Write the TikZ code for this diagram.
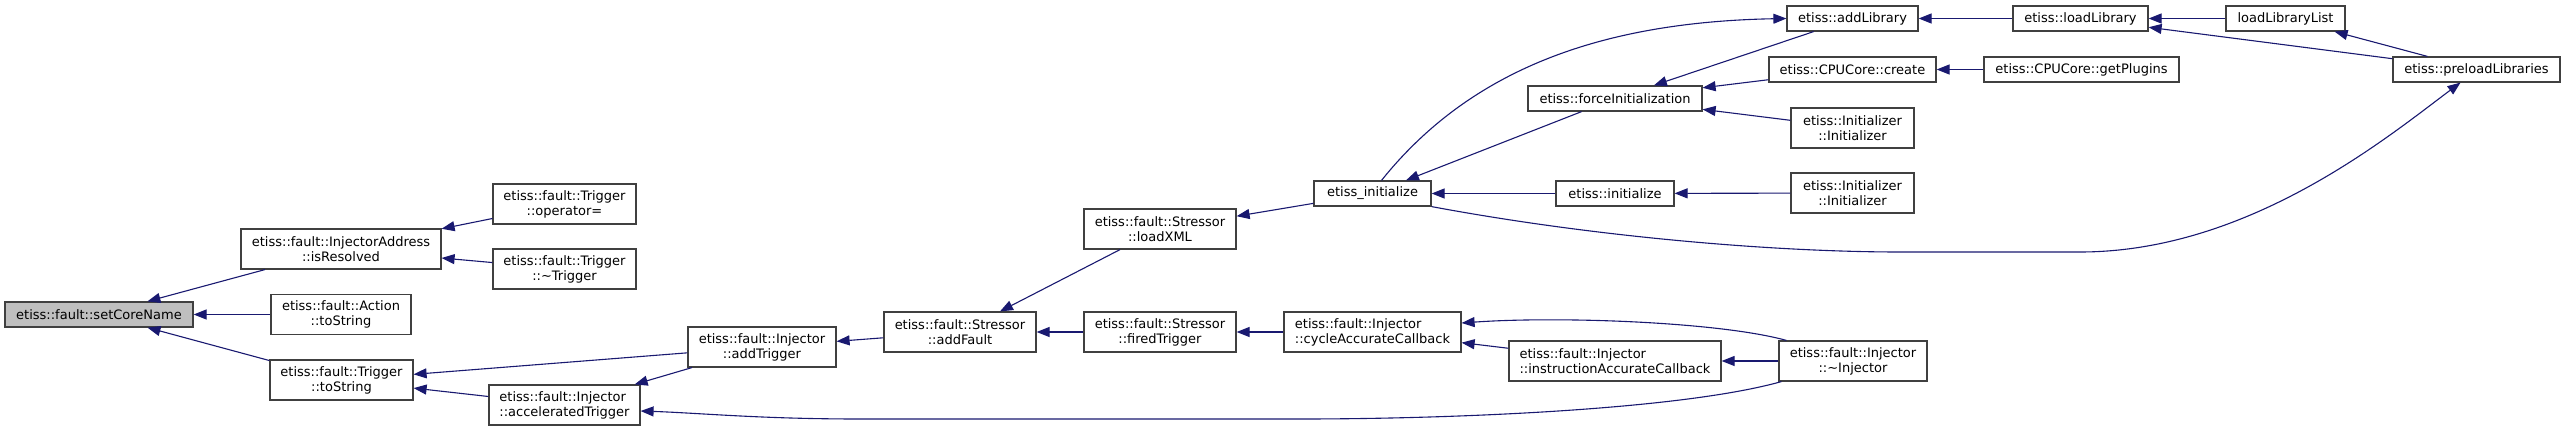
\documentclass[tikz,border=0pt]{standalone}
\usepackage{fontspec}
\setmainfont{DejaVu Sans}
\usepackage{tikz}
\usetikzlibrary{arrows.meta}
\usepackage{xcolor}
\definecolor{edgeblue}{HTML}{191970}
\definecolor{boxgrey}{HTML}{404040}
\definecolor{rootfill}{HTML}{BFBFBF}
\newcommand{\fnfont}{\fontsize{13pt}{15pt}\selectfont}
\tikzset{
  fn/.style={draw=boxgrey,fill=white,line width=1.2pt,inner sep=0pt,align=center,font=\fnfont},
  one/.style={fn,minimum height=25pt,minimum width=#1},
  two/.style={fn,minimum height=40pt,minimum width=#1},
  call/.style={draw=edgeblue,line width=1.1pt,<-,>={Triangle[length=13pt,width=10pt]}}
}

\begin{document}
\begin{tikzpicture}[x=1pt,y=-1pt]
\useasboundingbox (0,0) rectangle (2565,431);
\node[one=188pt,fill=rootfill] (core) at (99,314.5) {etiss::fault::setCoreName};
\node[two=200pt] (resolved) at (341,249) {etiss::fault::InjectorAddress\\::isResolved};
\node[two=140pt] (actstr) at (341,314.5) {etiss::fault::Action\\::toString};
\node[two=143pt] (trigstr) at (341.5,380) {etiss::fault::Trigger\\::toString};
\node[two=143pt] (opassign) at (564.5,204) {etiss::fault::Trigger\\::operator=};
\node[two=143pt] (trigdtor) at (564.5,269) {etiss::fault::Trigger\\::\textasciitilde Trigger};
\node[two=151pt,align=left] (accel) at (564.5,405) {etiss::fault::Injector\\::acceleratedTrigger};
\node[two=148pt] (addtrig) at (762,347) {etiss::fault::Injector\\::addTrigger};
\node[two=152pt] (addfault) at (960,332) {etiss::fault::Stressor\\::addFault};
\node[two=152pt] (loadxml) at (1160,229) {etiss::fault::Stressor\\::loadXML};
\node[two=152pt] (fired) at (1160,332) {etiss::fault::Stressor\\::firedTrigger};
\node[one=117pt] (init_) at (1372.5,193.5) {etiss\_initialize};
\node[two=177pt,align=left] (cycle) at (1372.5,332) {etiss::fault::Injector\\::cycleAccurateCallback};
\node[one=174pt] (force) at (1615,98.5) {etiss::forceInitialization};
\node[one=118pt] (initf) at (1615,193.5) {etiss::initialize};
\node[two=212pt,align=left] (instr) at (1615,361) {etiss::fault::Injector\\::instructionAccurateCallback};
\node[one=131pt] (addlib) at (1852.5,18.5) {etiss::addLibrary};
\node[one=167pt] (create) at (1852.5,69.5) {etiss::CPUCore::create};
\node[two=123pt] (initA) at (1852.5,128) {etiss::Initializer\\::Initializer};
\node[two=123pt] (initB) at (1852.5,193) {etiss::Initializer\\::Initializer};
\node[two=148pt] (injdtor) at (1853,361) {etiss::fault::Injector\\::\textasciitilde Injector};
\node[one=135pt] (loadlib) at (2080.5,18.5) {etiss::loadLibrary};
\node[one=195pt] (plugins) at (2081.5,69.5) {etiss::CPUCore::getPlugins};
\node[one=119pt] (liblist) at (2285.5,18.5) {loadLibraryList};
\node[one=167pt] (preload) at (2476.5,69.5) {etiss::preloadLibraries};

\draw[call] (core) -- (resolved);
\draw[call] (core) -- (actstr);
\draw[call] (core) -- (trigstr);
\draw[call] (resolved) -- (opassign);
\draw[call] (resolved) -- (trigdtor);
\draw[call] (trigstr) -- (addtrig);
\draw[call] (trigstr) -- (accel);
\draw[call] (accel) -- (addtrig);
\draw[call] (addtrig) -- (addfault);
\draw[call] (addfault) -- (loadxml);
\draw[call] (addfault) -- (fired);
\draw[call] (fired) -- (cycle);
\draw[call] (loadxml) -- (init_);
\draw[call] (init_) -- (force);
\draw[call] (init_) -- (initf);
\draw[call] (force) -- (addlib);
\draw[call] (force) -- (create);
\draw[call] (force) -- (initA);
\draw[call] (initf) -- (initB);
\draw[call] (create) -- (plugins);
\draw[call] (addlib) -- (loadlib);
\draw[call] (loadlib) -- (liblist);
\draw[call] (loadlib) -- (preload);
\draw[call] (liblist) -- (preload);
\draw[call] (cycle) -- (instr);
\draw[call] (instr) -- (injdtor);
\draw[call] (addlib.west) .. controls (1600,22) and (1470,70) .. ([xshift=9pt]init_.north);
\draw[call] ([xshift=-16pt]preload.south) .. controls (2390,135) and (2250,252) .. (2080,252)
  -- (1900,252) .. controls (1780,252) and (1600,238) .. (init_.south east);
\draw[call] ([yshift=-6pt]accel.east) .. controls (700,413) and (760,419) .. (860,419)
  -- (1300,419) .. controls (1450,419) and (1680,410) .. ([xshift=3pt]injdtor.south west);
\draw[call] ([yshift=9pt]cycle.east) .. controls (1560,316) and (1720,322) .. ([xshift=8pt]injdtor.north west);
\end{tikzpicture}
\end{document}
